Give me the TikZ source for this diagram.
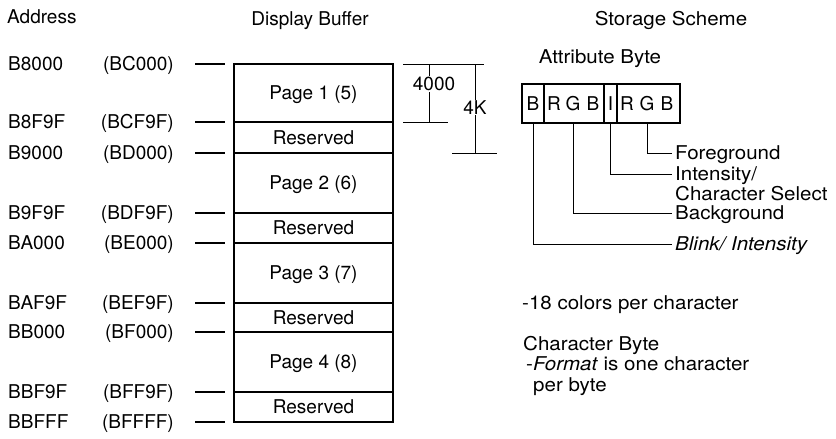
\documentclass[tikz,border=0pt]{standalone}
\usepackage{fontspec}
\setmainfont{TeX Gyre Heros}
\newfontfamily\widefont[FakeStretch=1.08]{TeX Gyre Heros}
\usetikzlibrary{positioning}

\begin{document}
\begin{tikzpicture}[x=1pt, y=-1pt,
    txt/.style={font=\fontsize{19}{22}\selectfont, inner sep=0pt, text height=13.6pt, text depth=0pt},
    wtxt/.style={txt, font=\widefont\fontsize{19}{22}\selectfont},
    desc/.style={wtxt, anchor=west, inner xsep=3pt},
    note/.style={wtxt, anchor=west},
    sect/.style={txt, draw, line width=2.4pt, minimum width=159pt},
    tick/.style={line width=1.5pt},
    thin/.style={line width=1pt}]
        \useasboundingbox (0,0) rectangle (836,439);
        % headings
        \node[txt, anchor=west] (addr) at (7,17) {Address};
        \node[txt] (dbuf) at (310,19) {Display Buffer};
        \node[wtxt] (stor) at (671,19) {Storage Scheme};
        % address column with ticks
        \foreach \y/\a/\b [count=\i] in {64/B8000/BC000, 122/B8F9F/BCF9F, 153/B9000/BD000,
            213/B9F9F/BDF9F, 243/BA000/BE000, 303/BAF9F/BEF9F, 332/BB000/BF000,
            392/BBF9F/BFF9F, 422/BBFFF/BFFFF} {
          \node[txt, anchor=west] (a\i) at (8,\y) {\a};
          \node[txt, anchor=east] (b\i) at (174,\y) {(\b)};
          \coordinate (t\i) at (195,\y);
          \coordinate (s\i) at (225,\y);
          \draw[tick] (t\i) -- (s\i);
        }
        % display buffer
        \foreach \t/\u/\lab [count=\i] in {64/122/Page 1 (5), 122/153/Reserved, 153/213/Page 2 (6),
            213/243/Reserved, 243/303/Page 3 (7), 303/332/Reserved, 332/392/Page 4 (8), 392/422/Reserved}
          \node[sect, minimum height={(\u-\t)*1pt}] (p\i) at (313.5,{(\t+\u)/2}) {\lab};
        % size brackets
        \draw[thin] (403,64) -- (484,64) (403,122) -- (448,122) (452,153) -- (497,153);
        \draw[thin] (429,64) -- node[txt, fill=white, inner sep=1pt, pos=0.34, xshift=5pt] (n4000) {4000} (429,122);
        \draw[thin] (475,64) -- node[txt, fill=white, inner sep=1pt, yshift=1pt] (n4k) {4K} (475,153);
        % attribute byte
        \node[wtxt] (attr) at (600,57) {Attribute Byte};
        \node[draw, line width=2.4pt, minimum width=158pt, minimum height=39pt] (abyte) at (601,103.5) {};
        \foreach \x in {544,604,617}
          \draw[line width=2.4pt] (\x,84) -- (\x,123);
        \foreach \x/\l [count=\i] in {533/B, 554/R, 573/G, 593/B, 610.5/I, 627/R, 647/G, 667/B}
          \node[txt] (bit\i) at (\x,104) {\l};
        \node[desc] (fg) at (672,153) {Foreground};
        \node[desc] (int) at (672,174) {Intensity/};
        \node[desc] (csel) at (672,194) {Character Select};
        \node[desc] (bg) at (672,213) {Background};
        \node[desc] (blk) at (672,244) {\itshape Blink/ Intensity};
        \draw[thin] (bit7 |- abyte.south) |- (fg.west);
        \draw[thin] (bit5 |- abyte.south) |- (int.west);
        \draw[thin] (bit3 |- abyte.south) |- (bg.west);
        \draw[thin] (bit1 |- abyte.south) |- (blk.west);
        % notes
        \node[note] (cols) at (522,303) {-18 colors per character};
        \node[note] (cbyte) at (523,344) {Character Byte};
        \node[note] (fmt) at (526,364) {-\textit{Format} is one character};
        \node[note] (pbyte) at (533,385) {per byte};
     \end{tikzpicture}
\end{document}
